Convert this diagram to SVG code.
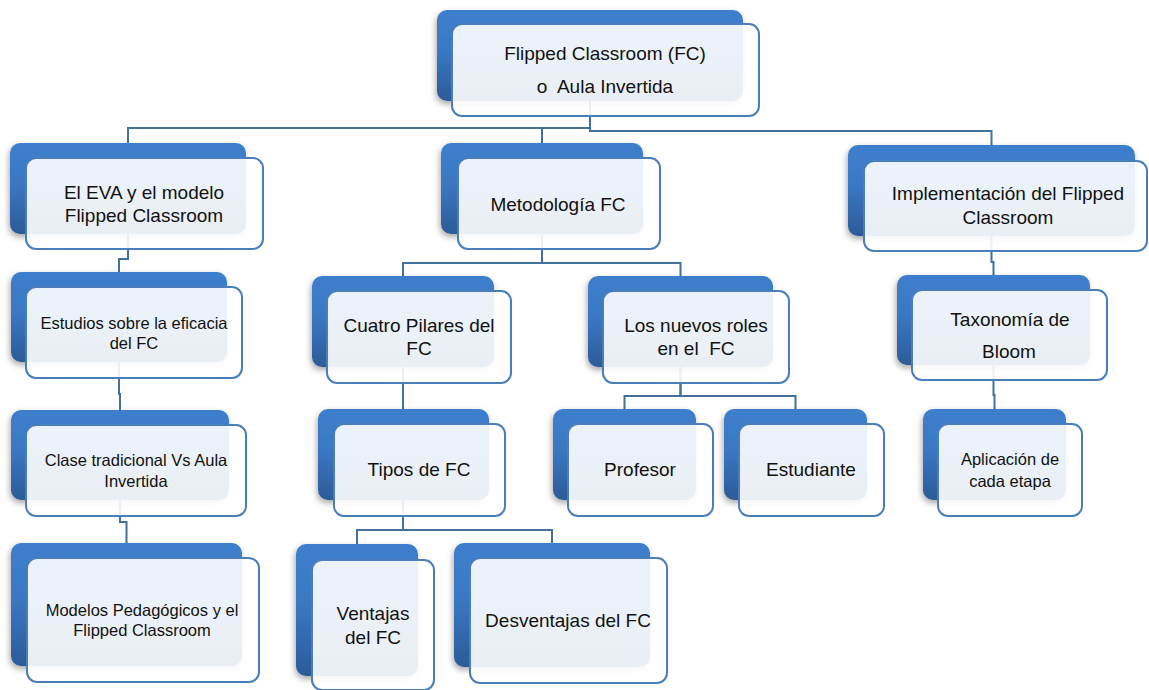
<svg xmlns="http://www.w3.org/2000/svg" width="1149" height="690" viewBox="0 0 1149 690">
<defs>
<linearGradient id="bg" x1="0" y1="0" x2="0" y2="1">
<stop offset="0" stop-color="#3d7fcd"/>
<stop offset="0.45" stop-color="#3a78c3"/>
<stop offset="1" stop-color="#2c5b98"/>
</linearGradient>
<filter id="sh" x="-10%" y="-10%" width="125%" height="130%">
<feDropShadow dx="-1" dy="3" stdDeviation="3" flood-color="#000" flood-opacity="0.35"/>
</filter>
<style>
.back{fill:url(#bg);filter:url(#sh)}
.front{fill:#fff;fill-opacity:.9;stroke:#4a7ebb;stroke-width:2}
.conn{fill:none;stroke:#41719c;stroke-width:2}
.t{font-family:"Liberation Sans",Arial,sans-serif;fill:#111;text-anchor:middle;white-space:pre}
.l{font-size:19px}
.s{font-size:16.5px}
</style>
</defs>
<rect width="1149" height="690" fill="#fff"/>
<g id="connectors">
<path class="conn" d="M590,101 V128 H128 V143"/>
<path class="conn" d="M590,101 V128 H542 V143"/>
<path class="conn" d="M590,101 V131 H991.5 V145"/>
<path class="conn" d="M128,234 V259 H119 V272"/>
<path class="conn" d="M119,362 V394 H120 V410"/>
<path class="conn" d="M120,500 V522 H126.5 V543"/>
<path class="conn" d="M542,234 V263 H403 V276"/>
<path class="conn" d="M542,234 V263 H680.5 V276"/>
<path class="conn" d="M403,367 V409"/>
<path class="conn" d="M680.5,367 V396 H624.5 V409"/>
<path class="conn" d="M680.5,367 V396 H795.5 V409"/>
<path class="conn" d="M403,500 V530 H357 V544"/>
<path class="conn" d="M403,500 V530 H552 V543"/>
<path class="conn" d="M991.5,236 V262 H993.5 V275"/>
<path class="conn" d="M993.5,365 V395 H994.5 V409"/>
</g>
<g id="n-root">
<rect class="back" x="437" y="10" width="306" height="91" rx="10"/>
<rect class="front" x="452" y="24" width="307" height="92" rx="10"/>
<text class="t l" xml:space="preserve"><tspan x="605" y="60">Flipped Classroom (FC)</tspan><tspan x="605" y="93">o  Aula Invertida</tspan></text>
</g>
<g id="n-eva">
<rect class="back" x="10" y="143" width="236" height="91" rx="10"/>
<rect class="front" x="26" y="158" width="237" height="91" rx="10"/>
<text class="t l"><tspan x="144" y="199">El EVA y el modelo</tspan><tspan x="144" y="222">Flipped Classroom</tspan></text>
</g>
<g id="n-metodologia">
<rect class="back" x="441" y="143" width="202" height="91" rx="10"/>
<rect class="front" x="458" y="158" width="202" height="91" rx="10"/>
<text class="t l"><tspan x="558" y="211">Metodología FC</tspan></text>
</g>
<g id="n-implementacion">
<rect class="back" x="848" y="145" width="287" height="91" rx="10"/>
<rect class="front" x="864" y="161" width="283" height="90" rx="10"/>
<text class="t l"><tspan x="1008" y="200">Implementación del Flipped</tspan><tspan x="1008" y="224">Classroom</tspan></text>
</g>
<g id="n-estudios">
<rect class="back" x="11" y="272" width="216" height="90" rx="10"/>
<rect class="front" x="26" y="287" width="216" height="91" rx="10"/>
<text class="t s"><tspan x="134" y="329">Estudios sobre la eficacia</tspan><tspan x="134" y="349">del FC</tspan></text>
</g>
<g id="n-clase">
<rect class="back" x="11" y="410" width="218" height="90" rx="10"/>
<rect class="front" x="26" y="425" width="220" height="91" rx="10"/>
<text class="t s"><tspan x="136" y="466">Clase tradicional Vs Aula</tspan><tspan x="136" y="487">Invertida</tspan></text>
</g>
<g id="n-modelos">
<rect class="back" x="11" y="543" width="231" height="123" rx="10"/>
<rect class="front" x="27" y="558" width="232" height="124" rx="10"/>
<text class="t s"><tspan x="142" y="616">Modelos Pedagógicos y el</tspan><tspan x="142" y="636">Flipped Classroom</tspan></text>
</g>
<g id="n-cuatro">
<rect class="back" x="312" y="276" width="182" height="91" rx="10"/>
<rect class="front" x="327" y="291" width="184" height="92" rx="10"/>
<text class="t l"><tspan x="419" y="332">Cuatro Pilares del</tspan><tspan x="419" y="355">FC</tspan></text>
</g>
<g id="n-roles">
<rect class="back" x="588" y="276" width="185" height="91" rx="10"/>
<rect class="front" x="603" y="291" width="186" height="92" rx="10"/>
<text class="t l" xml:space="preserve"><tspan x="696" y="332">Los nuevos roles</tspan><tspan x="696" y="355">en el  FC</tspan></text>
</g>
<g id="n-tipos">
<rect class="back" x="318" y="409" width="171" height="91" rx="10"/>
<rect class="front" x="334" y="424" width="171" height="92" rx="10"/>
<text class="t l"><tspan x="419" y="476">Tipos de FC</tspan></text>
</g>
<g id="n-profesor">
<rect class="back" x="553" y="409" width="143" height="91" rx="10"/>
<rect class="front" x="568" y="424" width="145" height="92" rx="10"/>
<text class="t l"><tspan x="640" y="476">Profesor</tspan></text>
</g>
<g id="n-estudiante">
<rect class="back" x="724" y="409" width="143" height="91" rx="10"/>
<rect class="front" x="739" y="424" width="145" height="92" rx="10"/>
<text class="t l"><tspan x="811" y="476">Estudiante</tspan></text>
</g>
<g id="n-ventajas">
<rect class="back" x="296" y="544" width="122" height="132" rx="10"/>
<rect class="front" x="312" y="560" width="122" height="130" rx="10"/>
<text class="t l"><tspan x="373" y="620">Ventajas</tspan><tspan x="373" y="644">del FC</tspan></text>
</g>
<g id="n-desventajas">
<rect class="back" x="454" y="543" width="196" height="124" rx="10"/>
<rect class="front" x="470" y="558" width="197" height="125" rx="10"/>
<text class="t l"><tspan x="568" y="627">Desventajas del FC</tspan></text>
</g>
<g id="n-taxonomia">
<rect class="back" x="897" y="275" width="193" height="90" rx="10"/>
<rect class="front" x="912" y="290" width="195" height="90" rx="10"/>
<text class="t l"><tspan x="1010" y="326">Taxonomía de</tspan><tspan x="1009" y="358">Bloom</tspan></text>
</g>
<g id="n-aplicacion">
<rect class="back" x="923" y="409" width="143" height="91" rx="10"/>
<rect class="front" x="938" y="424" width="144" height="92" rx="10"/>
<text class="t s"><tspan x="1010" y="465">Aplicación de</tspan><tspan x="1010" y="487">cada etapa</tspan></text>
</g>
</svg>
